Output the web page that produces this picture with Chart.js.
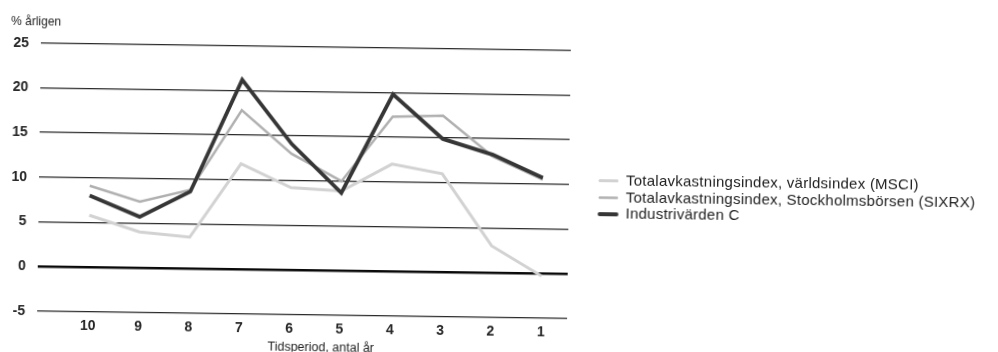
<!DOCTYPE html>
<html lang="sv">
<head>
<meta charset="utf-8">
<title>Totalavkastning per tidsperiod</title>
<script src="https://cdn.jsdelivr.net/npm/chart.js@4/dist/chart.umd.min.js"></script>
<style>
  html, body { margin: 0; padding: 0; background: #fff; overflow: hidden; }
  #wrap {
    position: absolute; left: 0; top: 0; width: 998px; height: 352px;
    transform: rotate(0.8deg); transform-origin: 304px 180px;
  }
  canvas { display: block; }
</style>
</head>
<body>
<div id="wrap"><canvas id="chart" width="998" height="352"></canvas></div>
<script>
// Tidsperiod (antal år) och årlig totalavkastning i procent
const periods = [10, 9, 8, 7, 6, 5, 4, 3, 2, 1];
const msci = [5.8, 4.0, 3.5, 11.8, 9.2, 8.9, 12.0, 11.0, 3.0, -0.3];
const sixrx = [9.1, 7.4, 8.8, 17.8, 13.0, 10.0, 17.3, 17.5, 13.0, 10.5];
const industrivarden = [8.0, 5.7, 8.6, 21.2, 14.1, 8.7, 19.8, 14.9, 13.2, 10.7];

const seriesNames = [
  'Totalavkastningsindex, världsindex (MSCI)',
  'Totalavkastningsindex, Stockholmsbörsen (SIXRX)',
  'Industrivärden C'
];
const yTicks = [-5, 0, 5, 10, 15, 20, 25];
const yUnitLabel = '% årligen';
const xAxisTitle = 'Tidsperiod, antal år';

const FONT = '"Liberation Sans", Arial, Helvetica, sans-serif';

const toPoints = vals => periods.map((p, i) => ({ x: p, y: vals[i] }));

// Legend and axis captions drawn on the canvas
const captions = {
  id: 'captions',
  afterDraw(chart) {
    const ctx = chart.ctx;
    ctx.save();
    ctx.fillStyle = '#222';
    ctx.textBaseline = 'middle';
    ctx.textAlign = 'left';
    ctx.font = '12px ' + FONT;
    ctx.fillText(yUnitLabel, 9, 26);

    ctx.textAlign = 'center';
    ctx.font = '12.5px ' + FONT;
    ctx.fillText(xAxisTitle, 323, 347.5);

    // legend
    ctx.textAlign = 'left';
    ctx.font = '15px ' + FONT;
    if ('letterSpacing' in ctx) ctx.letterSpacing = '0.25px';
    const rowY = [176.5, 193.5, 210];
    chart.data.datasets.forEach((ds, i) => {
      const y = rowY[i];
      ctx.strokeStyle = ds.borderColor;
      ctx.lineWidth = ds.borderWidth;
      ctx.lineCap = 'round';
      ctx.beginPath();
      ctx.moveTo(600, y);
      ctx.lineTo(617, y);
      ctx.stroke();
      ctx.fillStyle = '#222';
      ctx.fillText(ds.label, 626, y);
    });
    ctx.restore();
  }
};

new Chart(document.getElementById('chart'), {
  type: 'line',
  data: {
    datasets: [
      {
        label: seriesNames[0],
        data: toPoints(msci),
        borderColor: '#d2d2d2',
        borderWidth: 3,
        order: 3
      },
      {
        label: seriesNames[1],
        data: toPoints(sixrx),
        borderColor: '#b0b0b0',
        borderWidth: 2.5,
        order: 2
      },
      {
        label: seriesNames[2],
        data: toPoints(industrivarden),
        borderColor: '#363636',
        borderWidth: 3.8,
        order: 1
      }
    ]
  },
  options: {
    responsive: false,
    animation: false,
    devicePixelRatio: 1,
    layout: { padding: { top: 46.7, right: 429, bottom: 0, left: 0 } },
    elements: {
      point: { radius: 0, hoverRadius: 0 },
      line: { tension: 0, borderJoinStyle: 'miter', fill: false }
    },
    plugins: {
      legend: { display: false },
      tooltip: { enabled: false }
    },
    scales: {
      x: {
        type: 'linear',
        reverse: true,
        min: 0.48,
        max: 11.01,
        grid: { display: false },
        border: { display: false },
        afterBuildTicks: scale => { scale.ticks = periods.map(v => ({ value: v })); },
        afterFit: scale => { scale.height = 37.3; },
        ticks: {
          padding: -1.5,
          color: '#262626',
          font: { family: FONT, size: 14, weight: 'bold' },
          callback: v => String(v)
        }
      },
      y: {
        min: -5,
        max: 25,
        border: { display: false },
        afterBuildTicks: scale => { scale.ticks = yTicks.map(v => ({ value: v })); },
        afterFit: scale => { scale.width = 39; },
        grid: {
          drawTicks: false,
          color: ctx => ctx.tick && ctx.tick.value === 0 ? '#0a0a0a' : '#2a2a2a',
          lineWidth: ctx => ctx.tick && ctx.tick.value === 0 ? 2.6 : 1.2
        },
        ticks: {
          padding: 12,
          color: '#262626',
          font: { family: FONT, size: 14, weight: 'bold' },
          callback: v => String(v)
        }
      }
    }
  },
  plugins: [captions]
});
</script>
</body>
</html>
